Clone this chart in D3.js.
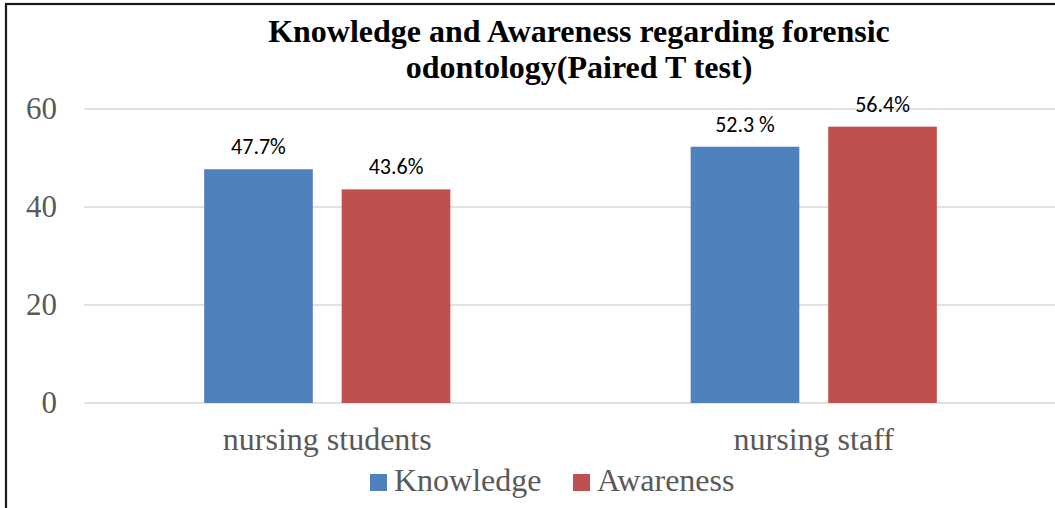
<!DOCTYPE html>
<html>
<head>
<meta charset="utf-8">
<script src="https://cdn.jsdelivr.net/npm/d3@7"></script>
<style>
  body { margin: 0; background: #fff; }
  svg { display: block; }
</style>
</head>
<body>
<svg id="chart"></svg>
<script>
var categories = ["nursing students", "nursing staff"];
var seriesNames = ["Knowledge", "Awareness"];
var knowledge = [47.7, 52.3];
var awareness = [43.6, 56.4];
var valueLabels = [["47.7%", "52.3 %"], ["43.6%", "56.4%"]];
var yTicks = [0, 20, 40, 60];
var colors = ["#4f81bd", "#c0504d"];

var width = 1055, height = 508;
var margin = {top: 109, right: -2, bottom: 105, left: 84};
var serif = "'Liberation Serif', 'Times New Roman', serif";

var svg = d3.select("#chart").attr("width", width).attr("height", height);

// frame
svg.append("rect")
  .attr("x", 6).attr("y", 4)
  .attr("width", width + 10).attr("height", height + 10)
  .attr("fill", "none").attr("stroke", "#1a1a1a").attr("stroke-width", 2.2);

var x0 = d3.scaleBand().domain(categories)
  .range([margin.left, width - margin.right]).padding(0);
var bw = x0.bandwidth();
var x1 = d3.scaleBand().domain(seriesNames)
  .range([bw * 0.247, bw * 0.753]).paddingInner(0.21);

var y = d3.scaleLinear().domain([0, 60]).range([height - margin.bottom, margin.top]);

// gridlines
svg.append("g").selectAll("line").data(yTicks).enter()
  .append("line")
  .attr("x1", margin.left).attr("x2", width)
  .attr("y1", function(d){ return y(d); }).attr("y2", function(d){ return y(d); })
  .attr("stroke", "#d9d9d9").attr("stroke-width", 1.5);

// y axis labels
svg.append("g").selectAll("text").data(yTicks).enter()
  .append("text")
  .attr("x", 57).attr("y", function(d){ return y(d) + 10; })
  .attr("text-anchor", "end")
  .style("font-family", serif)
  .style("font-size", "31px")
  .attr("fill", "#595959")
  .text(function(d){ return d; });

var seriesData = [knowledge, awareness];

var groups = svg.append("g").selectAll("g").data(categories).enter()
  .append("g")
  .attr("transform", function(d){ return "translate(" + x0(d) + ",0)"; });

function barData(c, ci) {
  return seriesNames.map(function(s, si){
    return {s: s, si: si, v: seriesData[si][ci], label: valueLabels[si][ci]};
  });
}

groups.selectAll("rect")
  .data(barData).enter()
  .append("rect")
  .attr("x", function(d){ return x1(d.s); })
  .attr("width", x1.bandwidth())
  .attr("y", function(d){ return y(d.v); })
  .attr("height", function(d){ return y(0) - y(d.v); })
  .attr("fill", function(d){ return colors[d.si]; });

groups.selectAll("text")
  .data(barData).enter()
  .append("text")
  .attr("x", function(d){ return x1(d.s) + x1.bandwidth() / 2; })
  .attr("y", function(d){ return y(d.v) - 15; })
  .attr("text-anchor", "middle")
  .style("font-family", "Carlito, 'Open Sans', sans-serif")
  .style("font-size", "22px")
  .attr("fill", "#000")
  .text(function(d){ return d.label; });

// category labels
svg.append("g").selectAll("text").data(categories).enter()
  .append("text")
  .attr("x", function(d){ return x0(d) + bw / 2; })
  .attr("y", 450)
  .attr("text-anchor", "middle")
  .style("font-family", serif)
  .style("font-size", "32px")
  .attr("fill", "#595959")
  .text(function(d){ return d; });

// title
var title = svg.append("text")
  .attr("text-anchor", "middle")
  .style("font-family", serif)
  .style("font-size", "32px")
  .style("font-weight", "bold")
  .attr("fill", "#000");
title.append("tspan").attr("x", 579).attr("y", 42).text("Knowledge and Awareness regarding forensic");
title.append("tspan").attr("x", 579).attr("y", 78).text("odontology(Paired T test)");

// legend
var legendX = [370, 573];
var legend = svg.append("g").selectAll("g").data(seriesNames).enter()
  .append("g")
  .attr("transform", function(d, i){ return "translate(" + legendX[i] + ",474)"; });
legend.append("rect")
  .attr("width", 17).attr("height", 17)
  .attr("fill", function(d, i){ return colors[i]; });
legend.append("text")
  .attr("x", 24).attr("y", 17)
  .style("font-family", serif)
  .style("font-size", "32px")
  .attr("fill", "#595959")
  .text(function(d){ return d; });
</script>
</body>
</html>
